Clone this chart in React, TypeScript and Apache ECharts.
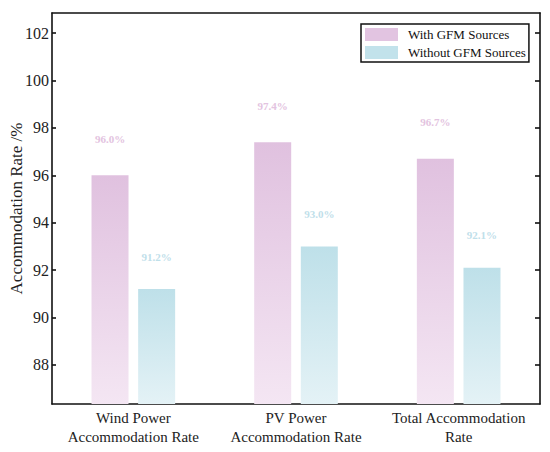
import React, { useEffect, useRef } from "react";
import * as echarts from "echarts";

const categories = ["Wind Power\nAccommodation Rate", "PV Power\nAccommodation Rate", "Total Accommodation\nRate"];
const withGFM = [96.0, 97.4, 96.7];
const withoutGFM = [91.2, 93.0, 92.1];
const yTicks = [88, 90, 92, 94, 96, 98, 100, 102];
const seriesNames = ["With GFM Sources", "Without GFM Sources"];

const FONT = "Liberation Serif, Times New Roman, serif";

export default function App() {
  const ref = useRef<HTMLDivElement>(null);
  useEffect(() => {
    document.body.style.margin = "0";
    const chart = echarts.init(ref.current!, null, { renderer: "svg" });
    const pinkGrad = new echarts.graphic.LinearGradient(0, 0, 0, 1, [
      { offset: 0, color: "#e0c1df" },
      { offset: 1, color: "#f4e6f3" },
    ]);
    const blueGrad = new echarts.graphic.LinearGradient(0, 0, 0, 1, [
      { offset: 0, color: "#bee0e9" },
      { offset: 1, color: "#e4f2f6" },
    ]);
    const yMin = 86.35;
    const yMax = 102.85;
    const axisLineStyle = { color: "#111", width: 1.6 };
    chart.setOption({
      animation: false,
      backgroundColor: "#fff",
      textStyle: { fontFamily: FONT },
      grid: { left: 52, right: 10, top: 13, bottom: 48, outerBoundsMode: "none", containLabel: false },
      legend: {
        left: 361,
        top: 24,
        orient: "vertical",
        itemWidth: 33,
        itemHeight: 13,
        itemGap: 5,
        padding: [4, 3, 3, 4],
        borderColor: "#111",
        borderWidth: 1.5,
        textStyle: { fontFamily: FONT, fontSize: 13, color: "#111", padding: [0, 0, 0, 5] },
        data: [
          { name: seriesNames[0], icon: "rect", itemStyle: { color: "#e2c4e1" } },
          { name: seriesNames[1], icon: "rect", itemStyle: { color: "#c2e2eb" } },
        ],
      },
      xAxis: [
        {
          type: "category",
          data: categories,
          position: "bottom",
          axisLine: { lineStyle: axisLineStyle },
          axisTick: { alignWithLabel: true, inside: true, length: 5, lineStyle: { color: "#111", width: 1.6 } },
          axisLabel: { interval: 0, fontFamily: FONT, fontSize: 15, color: "#222", margin: 5, lineHeight: 18.5 },
        },
        {
          type: "category",
          data: categories,
          position: "top",
          axisLine: { lineStyle: axisLineStyle },
          axisTick: { alignWithLabel: true, inside: true, length: 5, lineStyle: { color: "#111", width: 1.6 } },
          axisLabel: { show: false },
        },
      ],
      yAxis: [
        {
          type: "value",
          min: yMin,
          max: yMax,
          position: "left",
          name: "Accommodation Rate /%",
          nameLocation: "middle",
          nameGap: 27,
          nameMoveOverlap: false,
          nameTextStyle: { fontFamily: FONT, fontSize: 17, color: "#222" },
          axisLine: { show: true, lineStyle: axisLineStyle },
          axisTick: { show: true, inside: true, length: 4, customValues: yTicks, lineStyle: { color: "#111", width: 1.6 } },
          axisLabel: { fontFamily: FONT, fontSize: 16, color: "#222", margin: 3, customValues: yTicks },
          splitLine: { show: false },
        },
        {
          type: "value",
          min: yMin,
          max: yMax,
          position: "right",
          axisLine: { show: true, lineStyle: axisLineStyle },
          axisTick: { show: true, inside: true, length: 5, customValues: yTicks, lineStyle: { color: "#111", width: 1.6 } },
          axisLabel: { show: false },
          splitLine: { show: false },
        },
      ],
      series: [
        {
          name: seriesNames[0],
          type: "bar",
          data: withGFM,
          barWidth: 37,
          barGap: "26%",
          itemStyle: { color: pinkGrad },
          label: {
            show: true,
            position: "top",
            distance: 31,
            formatter: (p: any) => p.value.toFixed(1) + "%",
            fontFamily: FONT,
            fontSize: 11,
            fontWeight: "bold",
            color: "#e3c3e0",
          },
        },
        {
          name: seriesNames[1],
          type: "bar",
          data: withoutGFM,
          barWidth: 37,
          itemStyle: { color: blueGrad },
          label: {
            show: true,
            position: "top",
            distance: 27,
            formatter: (p: any) => p.value.toFixed(1) + "%",
            fontFamily: FONT,
            fontSize: 11,
            fontWeight: "bold",
            color: "#bfe0ea",
          },
        },
      ],
    });
    return () => chart.dispose();
  }, []);
  return <div ref={ref} style={{ width: 550, height: 452 }} />;
}
